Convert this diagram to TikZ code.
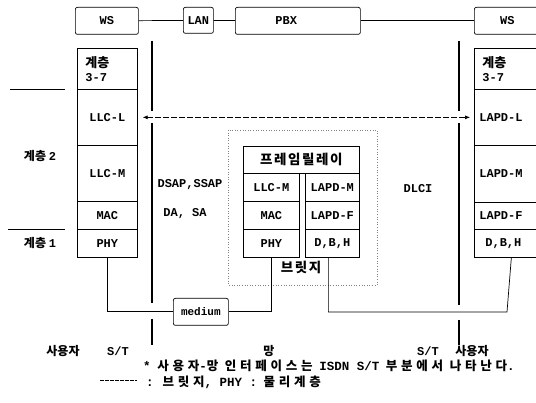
\documentclass[tikz,border=0pt]{standalone}
\usepackage{fontspec}
\setmainfont{Liberation Mono}
\newfontfamily\kr{Noto Sans CJK KR}
\newfontfamily\krw{Noto Sans CJK KR}[LetterSpace=12]
\newfontfamily\krn{Noto Sans CJK KR}[LetterSpace=30]
\usetikzlibrary{arrows.meta,calc}
\begin{document}
\begin{tikzpicture}[x=1pt,y=-1pt,
  lay/.style={draw, line width=0.7pt, inner sep=0pt, anchor=north west, font=\bfseries\fontsize{12}{13.5}\selectfont},
  rbox/.style={lay, rounded corners=2pt},
  lbl/.style={inner sep=0pt, font=\bfseries\fontsize{12}{13.5}\selectfont},
  krl/.style={inner sep=0pt, font=\kr\bfseries\fontsize{12}{14}\selectfont},
  note/.style={inner sep=0pt, anchor=west, font=\krn\bfseries\fontsize{12.5}{13}\selectfont},
  conn/.style={line width=0.7pt},
  iface/.style={line width=2.6pt},
]
\useasboundingbox (0,0) rectangle (536,403);
\clip (0,0) rectangle (536,403);

% top row
\node[rbox, minimum width=63pt, minimum height=27pt] (ws1) at (75,7) {WS};
\node[rbox, minimum width=30pt, minimum height=26pt] (lan) at (183,7) {LAN};
\node[rbox, minimum width=125pt, minimum height=27pt, align=left, text width=45pt, inner xsep=40pt] (pbx) at (235,7) {PBX};
\node[rbox, minimum width=66pt, minimum height=27pt] (ws2) at (474,7) {WS};
\draw[conn] (ws1) -- (lan);
\draw[conn] (lan) -- (pbx);
\draw[conn] (pbx) -- (ws2);

% left stack
\node[lay, minimum width=60pt, minimum height=41pt, align=left, text width=44pt, inner xsep=8pt] (l37) at (77,48) {{\kr\fontsize{13}{14}\selectfont 계층}\\3-7};
\node[lay, minimum width=60pt, minimum height=56pt] (llcl) at (77,89) {LLC-L};
\node[lay, minimum width=60pt, minimum height=56pt] (llcm) at (77,145) {LLC-M};
\node[lay, minimum width=60pt, minimum height=28pt] (macl) at (77,201) {MAC};
\node[lay, minimum width=60pt, minimum height=28pt] (phyl) at (77,229) {PHY};

% right stack
\node[lay, minimum width=66pt, minimum height=41pt, align=left, text width=50pt, inner xsep=8pt] (r37) at (474,48) {{\kr\fontsize{13}{14}\selectfont 계층}\\3-7};
\node[lay, minimum width=66pt, minimum height=56pt, align=left, text width=60pt, inner xsep=5pt] (lapdl) at (474,89) {LAPD-L};
\node[lay, minimum width=66pt, minimum height=57pt, align=left, text width=60pt, inner xsep=5pt] (lapdm) at (474,145) {LAPD-M};
\node[lay, minimum width=66pt, minimum height=27pt, align=left, text width=60pt, inner xsep=5pt] (lapdf) at (474,202) {LAPD-F};
\node[lay, minimum width=66pt, minimum height=28pt, align=left, text width=52pt, inner xsep=11pt] (dbhr) at (474,229) {D,B,H};

% bridge
\draw[dotted, line width=0.6pt, gray] (228,130) rectangle (377,285);
\node[lay, minimum width=116pt, minimum height=27pt, font=\krw\bfseries\fontsize{13.5}{15}\selectfont] (fr) at (243,146) {프레임릴레이};
\node[lay, minimum width=56pt, minimum height=28pt] (fllcm) at (243,173) {LLC-M};
\node[lay, minimum width=56pt, minimum height=28pt] (fmac) at (243,201) {MAC};
\node[lay, minimum width=56pt, minimum height=28pt] (fphy) at (243,229) {PHY};
\node[lay, minimum width=54pt, minimum height=28pt] (flapdm) at (305,173) {LAPD-M};
\node[lay, minimum width=54pt, minimum height=28pt] (flapdf) at (305,201) {LAPD-F};
\node[lay, minimum width=54pt, minimum height=28pt] (fdbh) at (305,229) {D,B,H};
\node[krl, font=\krw\bfseries\fontsize{13.5}{15}\selectfont] (brg) at (301,267) {브릿지};

% medium
\node[rbox, minimum width=55pt, minimum height=27pt, font=\bfseries\fontsize{11}{12}\selectfont] (med) at (173,298) {medium};
\coordinate (mr) at (507,312);
\draw[conn] (phyl.south) |- (med.west);
\draw[conn] (fphy.south) |- (med.east);
\draw[conn] ([xshift=-4pt]fdbh.south) |- (mr) -- (dbhr.south);

% interfaces
\draw[iface] (152,41) -- (152,111) (152,123) -- (152,303) (152,319) -- (152,345);
\draw[iface] (459,41) -- (459,111) (459,123) -- (459,305) (459,320) -- (459,345);

% layer-2 arrow
\draw[line width=0.6pt, dash pattern=on 6pt off 2pt, {Latex[length=5pt,width=4pt]}-{Latex[length=5pt,width=4pt]}] ([xshift=5pt]llcl.east) -- ([xshift=-4pt]lapdl.west);

% left markers
\draw[conn] (10,89) -- (65,89);
\draw[conn] (8,229) -- (65,229);
\node[krl] (k2) at (40,156) {계층 {\normalfont\bfseries 2}};
\node[krl] (k1) at (40,243) {계층 {\normalfont\bfseries 1}};

% field labels
\node[lbl] (dsap) at (190,185) {DSAP,SSAP};
\node[lbl] (dasa) at (185,214) {DA, SA};
\node[lbl] (dlci) at (418,189) {DLCI};

% bottom labels
\node[krl] (u1) at (63,351) {사용자};
\node[lbl] (st1) at (118,351) {S/T};
\node[krl] (net) at (269,351) {망};
\node[lbl] (st2) at (428,351) {S/T};
\node[krl] (u2) at (472,351) {사용자};

% note
\node[note] (note1) at (143,366) {{\normalfont\bfseries *} 사용자{\normalfont\bfseries -}망 인터페이스는 {\normalfont\bfseries ISDN S/T} 부분에서 나타난다{\normalfont\bfseries .}};
\coordinate (lg) at (100,380);
\draw[line width=0.5pt, dash pattern=on 4pt off 1pt] (lg) -- ++(37,0);
\node[note] (note2) at (146,382) {{\normalfont\bfseries :} 브릿지{\normalfont\bfseries , PHY :} 물리계층};
\end{tikzpicture}
\end{document}
